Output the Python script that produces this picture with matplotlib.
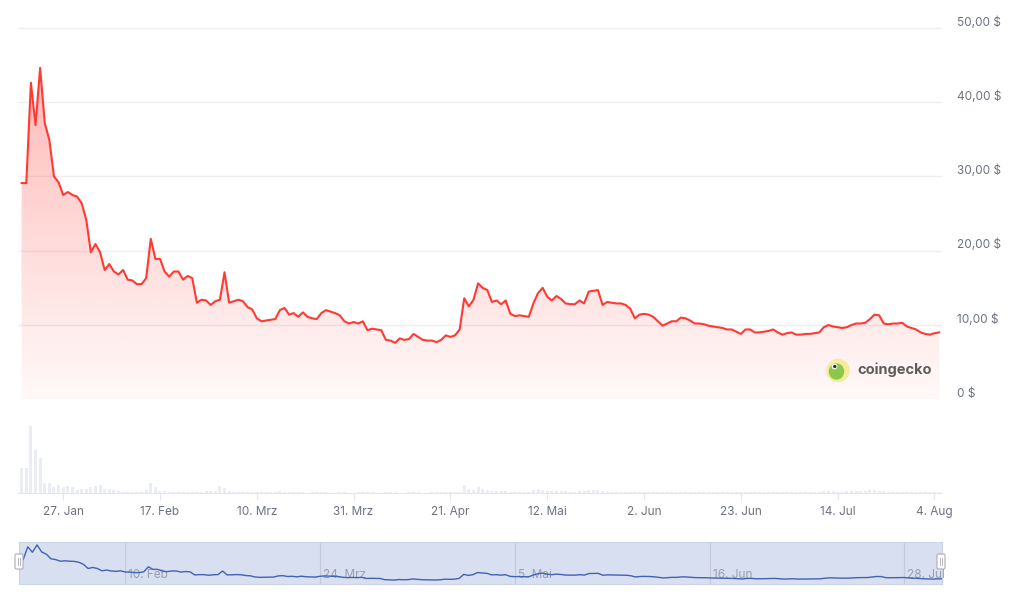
import matplotlib
matplotlib.use("Agg")
from matplotlib import pyplot as plt
import matplotlib.dates as mdates
from matplotlib import patches, transforms
import numpy as np
import pandas as pd

plt.rcParams['font.family'] = ['Inter', 'DejaVu Sans']

start = "2025-01-18"
price = [29.1, 29.1, 42.6, 36.9, 44.6, 37.2, 34.9, 30.0, 29.2, 27.5,
         27.9, 27.5, 27.3, 26.4, 24.2, 19.8, 20.9, 19.8, 17.4, 18.2,
         17.2, 16.8, 17.4, 16.1, 16.0, 15.5, 15.5, 16.3, 21.6, 18.9,
         18.9, 17.2, 16.5, 17.2, 17.2, 16.1, 16.6, 16.3, 13.0, 13.4,
         13.3, 12.7, 13.2, 13.4, 17.1, 13.0, 13.2, 13.4, 13.2, 12.4,
         12.1, 10.9, 10.5, 10.6, 10.7, 10.8, 12.0, 12.3, 11.4, 11.6,
         11.1, 11.7, 11.1, 10.9, 10.8, 11.6, 12.0, 11.8, 11.6, 11.3,
         10.5, 10.2, 10.4, 10.2, 10.5, 9.3, 9.5, 9.4, 9.3, 8.0,
         7.9, 7.6, 8.2, 8.0, 8.1, 8.8, 8.4, 8.0, 7.9, 7.9,
         7.7, 8.0, 8.6, 8.4, 8.6, 9.4, 13.6, 12.5, 13.4, 15.6,
         15.0, 14.7, 13.1, 13.3, 12.8, 13.3, 11.5, 11.2, 11.3, 11.2,
         11.1, 12.9, 14.3, 15.0, 13.8, 13.3, 13.9, 13.5, 12.9, 12.8,
         12.8, 13.3, 12.9, 14.5, 14.6, 14.7, 12.7, 13.1, 13.0, 12.9,
         12.9, 12.7, 12.2, 10.9, 11.4, 11.5, 11.4, 11.1, 10.5, 9.9,
         10.2, 10.5, 10.5, 11.0, 10.9, 10.6, 10.2, 10.2, 10.1, 9.9,
         9.8, 9.7, 9.6, 9.4, 9.4, 9.1, 8.8, 9.4, 9.4, 9.0,
         9.0, 9.1, 9.2, 9.4, 9.0, 8.7, 8.9, 9.0, 8.7, 8.7,
         8.8, 8.8, 8.9, 9.0, 9.7, 10.0, 9.8, 9.7, 9.6, 9.7,
         10.0, 10.2, 10.2, 10.3, 10.8, 11.4, 11.3, 10.2, 10.1, 10.2,
         10.2, 10.3, 9.8, 9.6, 9.4, 9.0, 8.8, 8.7, 8.9, 9.0]

# volume, relative units (axis has no scale)
volume = [25, 25, 67, 43, 35, 10.7, 10, 6, 8.3, 6.7,
          7.3, 6, 3.3, 4, 4, 6, 7.3, 8, 4, 4,
          3.3, 2.3, 1.5, 1.5, 1.2, 1.2, 1.5, 3.3, 10, 6,
          2.3, 2.3, 1.2, 1, 1, 1.2, 1, 1, 1.5, 1.5,
          2.3, 2.3, 2.3, 7.3, 5, 2.3, 1.5, 1.5, 1.2, 1.2,
          1, 1, 1, 1, 1, 1, 2, 1.5, 1.5, 1.2,
          1, 1, 0.8, 1, 1, 1.5, 1, 0.8, 0.8, 1,
          1, 0.8, 0.8, 1, 1, 1.2, 1, 0.8, 0.8, 1,
          1.2, 1, 0.8, 0.8, 1, 1.2, 1, 0.8, 0.8, 1,
          1, 1, 1.2, 1, 1, 1.5, 8, 4, 3, 6,
          4, 3, 2.5, 2.5, 2, 2, 1.5, 1.2, 1.2, 1.2,
          1.2, 3, 4, 3, 2.5, 2, 2.5, 2, 2, 1.5,
          1.5, 2, 2, 3, 3, 3.5, 2, 1.5, 1.2, 1.2,
          1.2, 1, 1, 1.5, 1.2, 1, 1, 1, 1, 1,
          1, 1, 1, 1.2, 1, 1, 1, 1, 1, 1,
          1, 1, 1, 1, 1, 1, 1, 1, 1, 1,
          1, 1, 1, 1, 1, 1, 1, 1, 1, 1,
          1, 1, 1, 1, 2, 2.5, 2, 1.5, 1.5, 2,
          2, 2.5, 2.5, 2.5, 3, 3.5, 2.5, 2, 1.5, 1.2,
          1.2, 1.2, 1, 1, 1, 1, 1, 1, 1, 1]

price_ticks = [0, 10, 20, 30, 40, 50]
price_labels = ["0 $", "10,00 $", "20,00 $", "30,00 $", "40,00 $", "50,00 $"]
date_ticks = ["2025-01-27", "2025-02-17", "2025-03-10", "2025-03-31", "2025-04-21",
              "2025-05-12", "2025-06-02", "2025-06-23", "2025-07-14", "2025-08-04"]
date_labels = ["27. Jan", "17. Feb", "10. Mrz", "31. Mrz", "21. Apr",
               "12. Mai", "2. Jun", "23. Jun", "14. Jul", "4. Aug"]
nav_ticks = ["2025-02-10", "2025-03-24", "2025-05-05", "2025-06-16", "2025-07-28"]
nav_labels = ["10. Feb", "24. Mrz", "5. Mai", "16. Jun", "28. Jul"]

W, H = 1024, 597
fig = plt.figure(figsize=(W / 100, H / 100), dpi=100)
fig.patch.set_facecolor("white")

def px_axes(x0, y0, x1, y1):
    return fig.add_axes([x0 / W, 1 - y1 / H, (x1 - x0) / W, (y1 - y0) / H])

dates = pd.date_range(start, periods=len(price), freq="D")
x = mdates.date2num(dates)
xlim = (x[0] - 0.8, x[0] + 199.63)

RED = "#ff3a33"
GRAY = "#6b7280"

# main price chart
ax = px_axes(18, 20, 942, 399.3)
ax.set_xlim(xlim)
ax.set_ylim(0, 51.05)
for s in ax.spines.values():
    s.set_visible(False)
ax.set_xticks([])
ax.set_yticks([])
for t in price_ticks:
    ax.axhline(t, color="#eeeeee", lw=1, zorder=0)

poly = ax.fill_between(x, price, 0, color="none", lw=0)
grad = np.zeros((256, 1, 4))
grad[:, 0, 0] = 1.0
grad[:, 0, 1] = 58 / 255
grad[:, 0, 2] = 51 / 255
grad[:, 0, 3] = np.linspace(0.03, 0.40, 256)
im = ax.imshow(grad, origin="lower", aspect="auto",
               extent=[xlim[0], xlim[1], 0, 51.05], zorder=1)
im.set_clip_path(poly.get_paths()[0], transform=ax.transData)
ax.plot(x, price, color=RED, lw=1.5, zorder=3, solid_joinstyle="round")

ytrans = transforms.offset_copy(ax.get_yaxis_transform(), fig=fig, x=15, y=5.5, units="dots")
for t, lab in zip(price_ticks, price_labels):
    ax.text(1.0, t, lab, transform=ytrans, ha="left", va="center",
            fontsize=8.5, color=GRAY)

# volume bars
vax = px_axes(18, 405, 942, 493.3)
vax.set_xlim(xlim)
vax.set_ylim(0, 88.3)
vax.bar(x, volume, width=0.65, color="#eaedf3", lw=0)
for s in ["top", "left", "right"]:
    vax.spines[s].set_visible(False)
vax.spines["bottom"].set_color("#e3e6ec")
vax.set_yticks([])
vax.set_xticks(mdates.date2num(pd.to_datetime(date_ticks)))
vax.set_xticklabels(date_labels)
vax.tick_params(axis="x", length=5, color="#e3e6ec", labelcolor=GRAY,
                labelsize=8.5, pad=4)

# navigator
nax = px_axes(18.5, 541.7, 941.5, 584)
nax.set_xlim(x[0], x[-1])
nax.set_ylim(3.5, 48)
nax.set_facecolor("#d8dff0")
for s in nax.spines.values():
    s.set_color("#cbd3e6")
nax.set_xticks([])
nax.set_yticks([])
ntrans = transforms.offset_copy(nax.get_xaxis_transform(), fig=fig, x=3, y=0, units="dots")
for d, lab in zip(nav_ticks, nav_labels):
    dn = mdates.date2num(pd.Timestamp(d))
    nax.axvline(dn, color="#c3c9d9", lw=0.8, zorder=1)
    nax.text(dn, 0.22, lab, transform=ntrans, ha="left", va="center",
             fontsize=8.5, color="#9a9fab", zorder=2)
nax.plot(x, price, color="#3f63b5", lw=1, zorder=3)

# overlay: navigator handles and logo
ov = fig.add_axes([0, 0, 1, 1], zorder=10)
ov.set_xlim(0, W)
ov.set_ylim(H, 0)
ov.axis("off")
ov.patch.set_alpha(0)
for hx in [19, 941]:
    ov.add_patch(patches.FancyBboxPatch((hx - 4, 554), 8, 15,
                 boxstyle="round,pad=0,rounding_size=1.5",
                 facecolor="white", edgecolor="#a9adb8", lw=0.8))
    ov.plot([hx - 1, hx - 1], [558, 565], color="#a9adb8", lw=0.6)
    ov.plot([hx + 1, hx + 1], [558, 565], color="#a9adb8", lw=0.6)

ov.add_patch(patches.Circle((838, 370.5), 11, color="#f7ea9c"))
ov.add_patch(patches.Ellipse((836.5, 371.5), 14, 15, color="#8cc84b"))
ov.add_patch(patches.Circle((834.5, 366.5), 2.2, color="white"))
ov.add_patch(patches.Circle((834.8, 366.5), 1.0, color="#333333"))
ov.text(857, 369.5, "coingecko", fontsize=10.5, fontweight="bold",
        color="#5c5c5c", ha="left", va="center")

fig.savefig("out.png", dpi=100, facecolor="white")
